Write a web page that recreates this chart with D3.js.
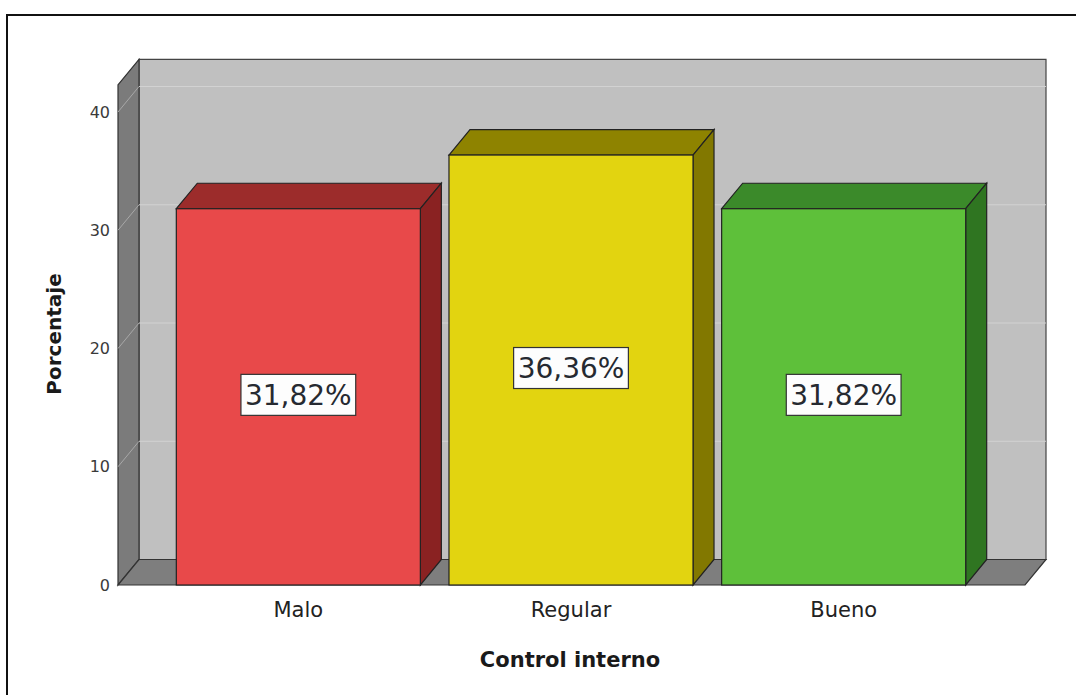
<!DOCTYPE html>
<html>
<head>
<meta charset="utf-8">
<script src="https://cdn.jsdelivr.net/npm/d3@7"></script>
<style>
  html, body { margin: 0; padding: 0; background: #ffffff; }
  svg { display: block; }
</style>
</head>
<body>
<svg id="chart" width="1076" height="695"></svg>
<script>
// Control interno: share of responses per rating
const categories = ["Malo", "Regular", "Bueno"];
const percentages = [31.82, 36.36, 31.82];
const valueLabels = ["31,82%", "36,36%", "31,82%"];
const yTicks = [0, 10, 20, 30, 40];
const frontColors = ["#e8494a", "#e2d410", "#5ec03a"];
const topColors = ["#9c2c2b", "#8e8300", "#3b8a2a"];
const sideColors = ["#8a2222", "#827800", "#2f7521"];

const svg = d3.select("#chart");

// outer frame
svg.append("rect")
  .attr("x", 7).attr("y", 15)
  .attr("width", 1090).attr("height", 700)
  .attr("fill", "#ffffff").attr("stroke", "#111").attr("stroke-width", 2);

// front plane of the 3D box and its depth offset
const plotLeft = 118, plotRight = 1025;
const depthX = 21, depthY = -25.5;
const wallTopValue = 42.3;

const y = d3.scaleLinear().domain([0, 40]).range([585, 112]);
const x = d3.scaleBand().domain(categories).range([162, 980])
  .paddingInner(0.105).paddingOuter(0.0525);

const y0 = y(0), yTop = y(wallTopValue);
const pts = a => a.map(p => p.join(",")).join(" ");

const walls = svg.append("g");
// back wall
walls.append("polygon")
  .attr("points", pts([[plotLeft + depthX, yTop + depthY], [plotRight + depthX, yTop + depthY],
                       [plotRight + depthX, y0 + depthY], [plotLeft + depthX, y0 + depthY]]))
  .attr("fill", "#c0c0c0").attr("stroke", "#444").attr("stroke-width", 1.2);
// left wall
walls.append("polygon")
  .attr("points", pts([[plotLeft, yTop], [plotLeft + depthX, yTop + depthY],
                       [plotLeft + depthX, y0 + depthY], [plotLeft, y0]]))
  .attr("fill", "#7b7b7b").attr("stroke", "#333").attr("stroke-width", 1.2);
// floor
walls.append("polygon")
  .attr("points", pts([[plotLeft, y0], [plotLeft + depthX, y0 + depthY],
                       [plotRight + depthX, y0 + depthY], [plotRight, y0]]))
  .attr("fill", "#7e7e7e").attr("stroke", "#333").attr("stroke-width", 1.2);

// grid lines on back and left walls
const grid = svg.append("g");
yTicks.filter(t => t > 0).forEach(t => {
  grid.append("line")
    .attr("x1", plotLeft + depthX).attr("x2", plotRight + depthX)
    .attr("y1", y(t) + depthY).attr("y2", y(t) + depthY)
    .attr("stroke", "#d2d2d2").attr("stroke-width", 1);
  grid.append("line")
    .attr("x1", plotLeft).attr("x2", plotLeft + depthX)
    .attr("y1", y(t)).attr("y2", y(t) + depthY)
    .attr("stroke", "#a8a8a8").attr("stroke-width", 1);
});

// y axis labels on the front plane
const yAxis = svg.append("g")
  .attr("transform", `translate(${plotLeft},0)`)
  .call(d3.axisLeft(y).tickValues(yTicks).tickSize(0).tickPadding(8).tickFormat(d3.format("d")));
yAxis.select(".domain").remove();
yAxis.selectAll("text")
  .attr("font-family", "DejaVu Sans").attr("font-size", 16).attr("fill", "#3a3a3a");

// bars
const bars = svg.append("g").selectAll("g").data(categories).join("g");
bars.each(function (c, i) {
  const g = d3.select(this);
  const x0 = x(c), x1 = x(c) + x.bandwidth(), yt = y(percentages[i]);
  g.append("polygon")
    .attr("points", pts([[x0, yt], [x0 + depthX, yt + depthY], [x1 + depthX, yt + depthY], [x1, yt]]))
    .attr("fill", topColors[i]).attr("stroke", "#222").attr("stroke-width", 1.2);
  g.append("polygon")
    .attr("points", pts([[x1, yt], [x1 + depthX, yt + depthY], [x1 + depthX, y0 + depthY], [x1, y0]]))
    .attr("fill", sideColors[i]).attr("stroke", "#222").attr("stroke-width", 1.2);
  g.append("rect")
    .attr("x", x0).attr("y", yt).attr("width", x.bandwidth()).attr("height", y0 - yt)
    .attr("fill", frontColors[i]).attr("stroke", "#222").attr("stroke-width", 1.2);
});

// value labels in boxes at mid-height of each bar
const labels = svg.append("g").selectAll("g").data(categories).join("g")
  .attr("transform", (c, i) => `translate(${x(c) + x.bandwidth() / 2},${y(percentages[i] / 2) - 2})`);
labels.append("text")
  .attr("text-anchor", "middle").attr("dy", "0.36em")
  .attr("font-family", "DejaVu Sans").attr("font-size", 28).attr("fill", "#262a31")
  .text((c, i) => valueLabels[i]);
labels.each(function () {
  const g = d3.select(this);
  const bb = g.select("text").node().getBBox();
  g.insert("rect", "text")
    .attr("x", bb.x - 4).attr("y", -20.5).attr("width", bb.width + 8).attr("height", 41)
    .attr("fill", "#fdfdfd").attr("stroke", "#333").attr("stroke-width", 1.2);
});

// category labels
svg.append("g").selectAll("text").data(categories).join("text")
  .attr("x", c => x(c) + x.bandwidth() / 2).attr("y", 617)
  .attr("text-anchor", "middle")
  .attr("font-family", "DejaVu Sans").attr("font-size", 21).attr("fill", "#222")
  .text(c => c);

// axis titles
svg.append("text")
  .attr("x", 570).attr("y", 667).attr("text-anchor", "middle")
  .attr("font-family", "DejaVu Sans").attr("font-weight", "bold").attr("font-size", 21).attr("fill", "#1a1a1a")
  .text("Control interno");
svg.append("text")
  .attr("transform", "translate(61,334) rotate(-90)").attr("text-anchor", "middle")
  .attr("font-family", "DejaVu Sans").attr("font-weight", "bold").attr("font-size", 20).attr("fill", "#1a1a1a")
  .text("Porcentaje");
</script>
</body>
</html>
